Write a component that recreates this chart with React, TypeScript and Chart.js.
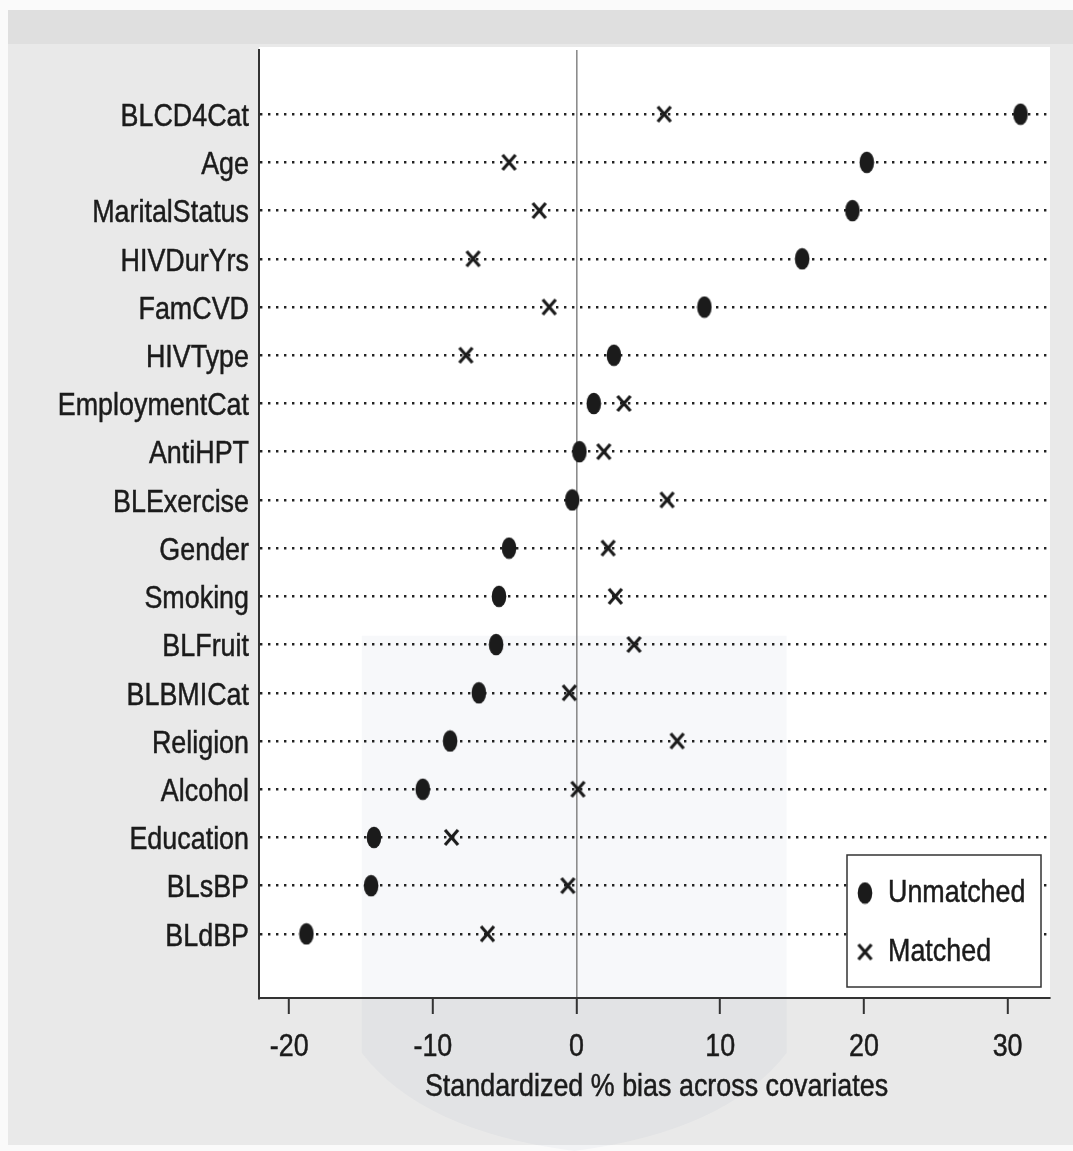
import { useEffect, useRef } from "react";
import { Chart, registerables } from "chart.js";

Chart.register(...registerables);

// Covariates, top to bottom
const covariates = [
  "BLCD4Cat",
  "Age",
  "MaritalStatus",
  "HIVDurYrs",
  "FamCVD",
  "HIVType",
  "EmploymentCat",
  "AntiHPT",
  "BLExercise",
  "Gender",
  "Smoking",
  "BLFruit",
  "BLBMICat",
  "Religion",
  "Alcohol",
  "Education",
  "BLsBP",
  "BLdBP",
];

// Standardized % bias before matching
const unmatchedBias = [
  30.9, 20.2, 19.2, 15.7, 8.9, 2.6, 1.2, 0.2, -0.3, -4.7, -5.4, -5.6, -6.8,
  -8.8, -10.7, -14.1, -14.3, -18.8,
];

// Standardized % bias after matching
const matchedBias = [
  6.1, -4.7, -2.6, -7.2, -1.9, -7.7, 3.3, 1.9, 6.3, 2.2, 2.7, 4.0, -0.5, 7.0,
  0.1, -8.7, -0.6, -6.2,
];

const xTickValues = [-20, -10, 0, 10, 20, 30];
const seriesLabels = ["Unmatched", "Matched"];
const axisTitle = "Standardized % bias across covariates";

const FONT = "'Liberation Sans', Arial, sans-serif";
const FONT_SIZE = 32;
const NARROW = 0.84; // horizontal squeeze for the condensed lettering
const INK = "#1b1b1b";

function makeDot(): HTMLCanvasElement {
  const c = document.createElement("canvas");
  c.width = 16;
  c.height = 23;
  const g = c.getContext("2d")!;
  g.fillStyle = INK;
  g.beginPath();
  g.ellipse(8, 11.5, 7.3, 10.8, 0, 0, Math.PI * 2);
  g.fill();
  return c;
}

function makeCross(): HTMLCanvasElement {
  const c = document.createElement("canvas");
  c.width = 17;
  c.height = 19;
  const g = c.getContext("2d")!;
  g.strokeStyle = INK;
  g.lineWidth = 3.2;
  g.beginPath();
  g.moveTo(2, 2);
  g.lineTo(15, 17);
  g.moveTo(15, 2);
  g.lineTo(2, 17);
  g.stroke();
  return c;
}

function condensedText(
  ctx: CanvasRenderingContext2D,
  text: string,
  x: number,
  y: number,
  align: CanvasTextAlign
) {
  ctx.save();
  ctx.translate(x, y);
  ctx.scale(NARROW, 1);
  ctx.font = `${FONT_SIZE}px ${FONT}`;
  ctx.fillStyle = INK;
  ctx.strokeStyle = INK;
  ctx.lineWidth = 0.5;
  ctx.textAlign = align;
  ctx.textBaseline = "middle";
  ctx.fillText(text, 0, 0);
  ctx.strokeText(text, 0, 0);
  ctx.restore();
}

// Page tone, white plotting region and the faint crest behind it
const backdrop = {
  id: "backdrop",
  beforeDraw(chart: any) {
    const { ctx, chartArea: a, width, height } = chart;
    ctx.save();
    ctx.fillStyle = "#fafafa";
    ctx.fillRect(0, 0, width, height);
    ctx.fillStyle = "#e9e9e9";
    ctx.fillRect(8, 10, width - 8, height - 16);
    ctx.fillStyle = "#dfdfdf";
    ctx.fillRect(8, 10, width - 8, 34);
    ctx.fillStyle = "#ffffff";
    ctx.fillRect(a.left, a.top - 3, a.right - a.left, a.bottom - a.top + 3);

    const w = a.right - a.left;
    const h = a.bottom - a.top;
    const l = a.left + w * 0.13;
    const r = a.left + w * 0.667;
    const t = a.top + h * 0.618;
    const mid = (l + r) / 2;
    ctx.fillStyle = "rgba(100,110,165,0.05)";
    ctx.beginPath();
    ctx.moveTo(l, t);
    ctx.lineTo(r, t);
    ctx.lineTo(r, a.bottom + 55);
    ctx.quadraticCurveTo(r - 60, height - 20, mid, height);
    ctx.quadraticCurveTo(l + 60, height - 20, l, a.bottom + 55);
    ctx.closePath();
    ctx.fill();
    ctx.restore();
  },
};

// Axis lettering placed from the chart's own scales
const axisText = {
  id: "axisText",
  afterDraw(chart: any) {
    const { ctx, chartArea: a, scales } = chart;
    const xs = scales.x;
    const ys = scales.y;
    covariates.forEach((name, i) => {
      condensedText(ctx, name, a.left - 10, ys.getPixelForValue(i) + 3, "right");
    });
    xTickValues.forEach((v) => {
      condensedText(ctx, String(v), xs.getPixelForValue(v), a.bottom + 49, "center");
    });
    condensedText(ctx, axisTitle, (a.left + a.right) / 2 + 2, a.bottom + 89, "center");
  },
};

// Boxed key in the lower right corner of the plotting region
const keyBox = {
  id: "keyBox",
  afterDraw(chart: any) {
    const { ctx, chartArea: a } = chart;
    const w = 194;
    const h = 132;
    const x0 = a.right - 9 - w;
    const y0 = a.bottom - 11 - h;
    ctx.save();
    ctx.fillStyle = "#ffffff";
    ctx.fillRect(x0, y0, w, h);
    ctx.strokeStyle = "#333";
    ctx.lineWidth = 1.5;
    ctx.strokeRect(x0, y0, w, h);
    chart.data.datasets.forEach((ds: any, i: number) => {
      const cy = y0 + 38 + i * 59;
      const img = ds.pointStyle as HTMLCanvasElement;
      ctx.drawImage(img, x0 + 18 - img.width / 2, cy - img.height / 2);
      condensedText(ctx, ds.label, x0 + 41, cy, "left");
    });
    ctx.restore();
  },
};

export default function App() {
  const canvasRef = useRef<HTMLCanvasElement | null>(null);

  useEffect(() => {
    const canvas = canvasRef.current;
    if (!canvas) return;
    const dot = makeDot();
    const cross = makeCross();

    const chart = new Chart(canvas, {
      type: "scatter",
      data: {
        datasets: [
          {
            label: seriesLabels[0],
            data: covariates.map((_, i) => ({ x: unmatchedBias[i], y: i })),
            pointStyle: dot as any,
            pointRadius: 8,
            showLine: false,
          },
          {
            label: seriesLabels[1],
            data: covariates.map((_, i) => ({ x: matchedBias[i], y: i })),
            pointStyle: cross as any,
            pointRadius: 8,
            showLine: false,
          },
        ],
      },
      options: {
        animation: false,
        responsive: false,
        events: [],
        layout: { padding: { left: 0, top: 50, right: 23, bottom: 0 } },
        plugins: {
          legend: { display: false },
          tooltip: { enabled: false },
        },
        scales: {
          x: {
            type: "linear",
            min: -22.1,
            max: 32.95,
            afterBuildTicks: (s: any) => {
              s.ticks = xTickValues.map((v) => ({ value: v }));
            },
            afterFit: (s: any) => {
              s.height = 153;
            },
            grid: {
              color: (c: any) =>
                c.tick && c.tick.value === 0 ? "#8c8c8c" : "rgba(0,0,0,0)",
              lineWidth: 1.6,
              drawTicks: true,
              tickLength: 16,
              tickColor: "#333",
              tickWidth: 2,
            },
            border: { display: true, color: "#333", width: 2 },
            ticks: { display: false },
          },
          y: {
            type: "linear",
            reverse: true,
            min: -1.33,
            max: 18.33,
            afterBuildTicks: (s: any) => {
              s.ticks = covariates.map((_, i) => ({ value: i }));
            },
            afterFit: (s: any) => {
              s.width = 259;
            },
            grid: { color: "#222", lineWidth: 2.4, drawTicks: false },
            border: { display: true, color: "#333", width: 2, dash: [2.4, 5.6] },
            ticks: { display: false },
          },
        },
      },
      plugins: [backdrop, axisText, keyBox],
    } as any);

    return () => chart.destroy();
  }, []);

  return (
    <div style={{ position: "absolute", left: 0, top: 0, width: 1073, height: 1151 }}>
      <canvas ref={canvasRef} width={1073} height={1151} style={{ display: "block" }} />
    </div>
  );
}
